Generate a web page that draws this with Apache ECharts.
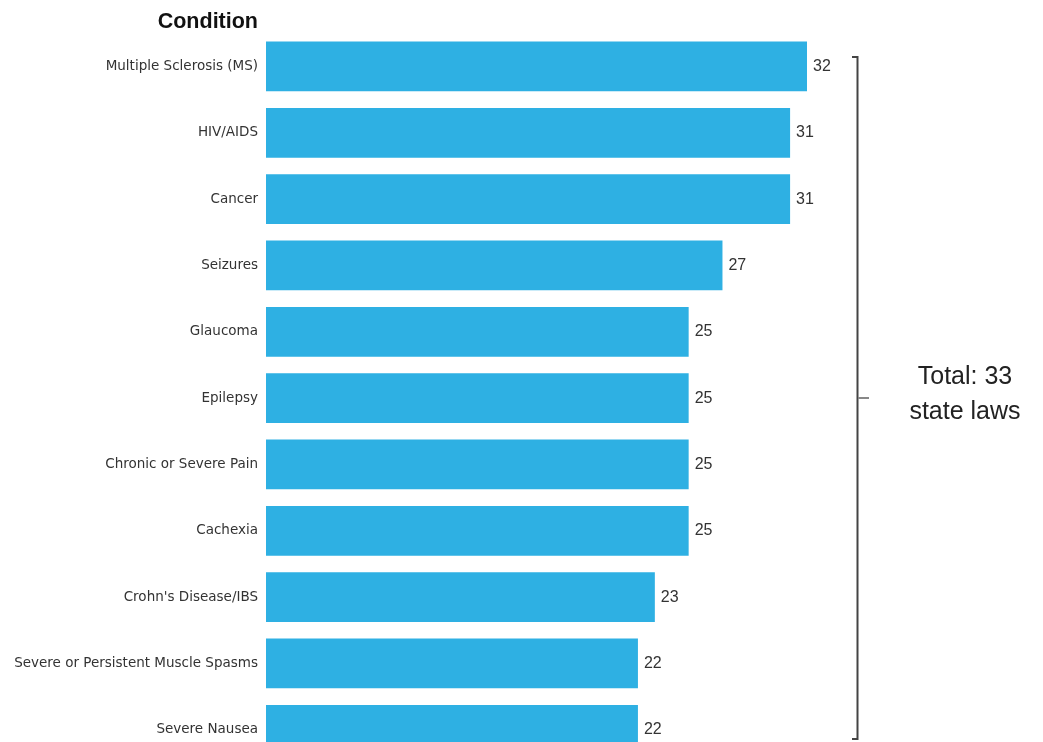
<!DOCTYPE html>
<html>
<head>
<meta charset="utf-8">
<script src="https://cdn.jsdelivr.net/npm/echarts@6/dist/echarts.min.js"></script>
<style>
html,body{margin:0;padding:0;background:#fff;}
#chart{width:1043px;height:742px;}
</style>
</head>
<body>
<div id="chart"></div>
<script>
const categories = [
  "Multiple Sclerosis (MS)",
  "HIV/AIDS",
  "Cancer",
  "Seizures",
  "Glaucoma",
  "Epilepsy",
  "Chronic or Severe Pain",
  "Cachexia",
  "Crohn's Disease/IBS",
  "Severe or Persistent Muscle Spasms",
  "Severe Nausea"
];
const stateLawCounts = [32, 31, 31, 27, 25, 25, 25, 25, 23, 22, 22];
const totalStateLaws = 33;
const axisTitle = "Condition";

const chart = echarts.init(document.getElementById('chart'), null, {renderer: 'canvas'});
const labelFont = '"DejaVu Sans", sans-serif';
const numFont = '"Liberation Sans", Arial, sans-serif';
chart.setOption({
  animation: false,
  backgroundColor: '#ffffff',
  grid: {left: 266, width: 541, top: 33.3, height: 729.7, containLabel: false, outerBoundsMode: 'none'},
  xAxis: {
    type: 'value', min: 0, max: 32,
    show: false
  },
  yAxis: {
    type: 'category',
    data: categories,
    inverse: true,
    axisLine: {show: false},
    axisTick: {show: false},
    axisLabel: {margin: 8, color: '#333', fontSize: 13.5, fontFamily: labelFont, padding: [4, 0, 0, 0]}
  },
  series: [{
    type: 'bar',
    data: stateLawCounts,
    barCategoryGap: '25%',
    itemStyle: {color: '#2EB0E3'},
    label: {
      show: true, position: 'right', distance: 6,
      color: '#333', fontSize: 16, fontFamily: numFont
    }
  }],
  graphic: [
    {
      type: 'text', x: 258, y: 11,
      style: {text: axisTitle, fontSize: 21.5, fontWeight: 'bold', fill: '#111', fontFamily: numFont, textAlign: 'right', textVerticalAlign: 'top'}
    },
    {
      type: 'polyline',
      shape: {points: [[852, 57], [857.5, 57], [857.5, 739], [852, 739]]},
      style: {stroke: '#444', lineWidth: 2, fill: null}
    },
    {
      type: 'line',
      shape: {x1: 858, y1: 398, x2: 869, y2: 398},
      style: {stroke: '#888', lineWidth: 2}
    },
    {
      type: 'text', x: 965, y: 395,
      style: {text: 'Total: ' + totalStateLaws + '\nstate laws', fontSize: 25, lineHeight: 35, fill: '#222', fontFamily: numFont, textAlign: 'center', textVerticalAlign: 'middle'}
    }
  ]
});
</script>
</body>
</html>
